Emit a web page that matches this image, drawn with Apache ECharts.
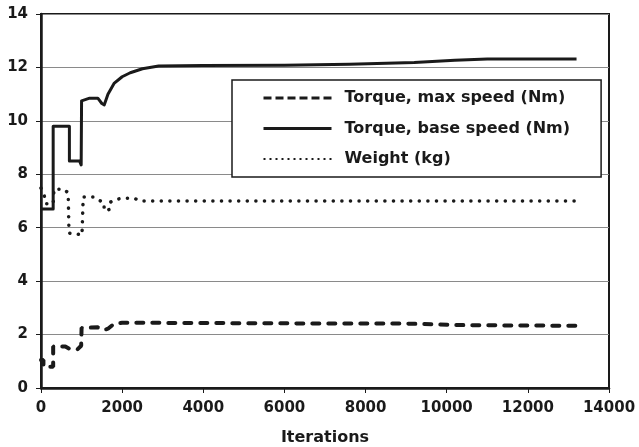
<!DOCTYPE html>
<html>
<head>
<meta charset="utf-8">
<script src="https://cdn.jsdelivr.net/npm/echarts@6/dist/echarts.min.js"></script>
<style>
  html, body { margin: 0; padding: 0; background: #fff; }
  #chart { width: 639px; height: 447px; }
</style>
</head>
<body>
<div id="chart"></div>
<script>
// Optimisation history: motor torques and weight against iteration count
const xTicks = [0, 2000, 4000, 6000, 8000, 10000, 12000, 14000];
const yTicks = [0, 2, 4, 6, 8, 10, 12, 14];

const seriesNames = ['Torque, max speed (Nm)', 'Torque, base speed (Nm)', 'Weight (kg)'];

// Torque at maximum speed (Nm)
const maxSpeedIter = [0, 60, 60, 300, 300, 600, 700, 900, 990, 1000, 1000, 1400, 1550, 1650, 1800, 2000, 2700, 6000, 9000, 10500, 13200];
const maxSpeedTorque = [1.05, 1.05, 0.8, 0.8, 1.55, 1.55, 1.47, 1.45, 1.58, 1.6, 2.25, 2.27, 2.17, 2.22, 2.4, 2.44, 2.44, 2.42, 2.41, 2.35, 2.33];

// Torque at base speed (Nm)
const baseSpeedIter = [0, 300, 300, 700, 700, 950, 990, 1000, 1000, 1200, 1400, 1500, 1560, 1650, 1800, 2000, 2200, 2500, 2900, 4000, 6000, 7600, 9200, 10200, 11000, 13200];
const baseSpeedTorque = [6.7, 6.7, 9.8, 9.8, 8.5, 8.5, 8.35, 8.35, 10.75, 10.85, 10.85, 10.65, 10.6, 11.0, 11.4, 11.65, 11.8, 11.95, 12.05, 12.07, 12.08, 12.12, 12.18, 12.27, 12.32, 12.32];

// Weight (kg)
const weightIter = [0, 80, 120, 300, 320, 570, 670, 690, 950, 1010, 1040, 1300, 1400, 1550, 1560, 1680, 1700, 1850, 2000, 2300, 2450, 13200];
const weightKg = [7.48, 7.2, 6.9, 6.9, 7.44, 7.44, 7.3, 5.8, 5.75, 5.72, 7.15, 7.15, 7.04, 6.95, 6.63, 6.68, 6.95, 7.06, 7.1, 7.1, 7.0, 7.0];

const pairs = (xs, ys) => xs.map((x, i) => [x, ys[i]]);

const font = '"DejaVu Sans", "Liberation Sans", Arial, sans-serif';
const ink = '#1a1a1a';
const hidden = { color: 'rgba(0,0,0,0)', opacity: 0, borderWidth: 0 };

const chart = echarts.init(document.getElementById('chart'), null, { renderer: 'canvas' });

chart.setOption({
  backgroundColor: '#ffffff',
  animation: false,
  grid: {
    left: 41, right: 30, top: 14, bottom: 59,
    outerBoundsMode: 'none',
    show: true, borderColor: ink, borderWidth: 2, backgroundColor: 'transparent'
  },
  legend: {
    orient: 'vertical',
    left: 232, top: 80,
    padding: [10, 31, 10, 30],
    itemWidth: 68, itemHeight: 16, itemGap: 14.5,
    backgroundColor: '#ffffff',
    borderColor: ink, borderWidth: 1.5,
    textStyle: { fontFamily: font, fontWeight: 'bold', fontSize: 16, color: ink, padding: [0, 0, 0, 8] },
    data: [
      { name: seriesNames[0], itemStyle: hidden, lineStyle: { width: 3, type: [8, 4], cap: 'butt' } },
      { name: seriesNames[1], itemStyle: hidden, lineStyle: { width: 3, type: 'solid' } },
      { name: seriesNames[2], itemStyle: hidden, lineStyle: { width: 2, type: [2, 4], cap: 'butt' } }
    ]
  },
  xAxis: {
    type: 'value', min: 0, max: 14000, interval: 2000,
    name: 'Iterations', nameLocation: 'middle', nameGap: 42,
    nameTextStyle: { fontFamily: font, fontWeight: 'bold', fontSize: 16, color: ink },
    axisLine: { lineStyle: { color: ink, width: 2.5 } },
    axisTick: { show: true, inside: false, length: 5, lineStyle: { color: ink, width: 1 } },
    axisLabel: {
      margin: 13, fontFamily: font, fontWeight: 'bold', fontSize: 15, color: ink,
      formatter: v => xTicks.includes(v) ? String(v) : ''
    },
    splitLine: { show: false }
  },
  yAxis: {
    type: 'value', min: 0, max: 14, interval: 2,
    axisLine: { show: true, lineStyle: { color: ink, width: 2.5 } },
    axisTick: { show: true, inside: false, length: 5, lineStyle: { color: ink, width: 1 } },
    axisLabel: {
      margin: 13, fontFamily: font, fontWeight: 'bold', fontSize: 15, color: ink,
      formatter: v => yTicks.includes(v) ? String(v) : ''
    },
    splitLine: { show: true, lineStyle: { color: '#8a8a8a', width: 1 } }
  },
  series: [
    {
      name: seriesNames[0], type: 'line', symbol: 'none', z: 3,
      data: pairs(maxSpeedIter, maxSpeedTorque),
      lineStyle: { color: ink, width: 4, type: [7, 9], cap: 'round' },
      itemStyle: { color: ink }
    },
    {
      name: seriesNames[1], type: 'line', symbol: 'none', z: 4,
      data: pairs(baseSpeedIter, baseSpeedTorque),
      lineStyle: { color: ink, width: 3, type: 'solid', join: 'round' },
      itemStyle: { color: ink }
    },
    {
      name: seriesNames[2], type: 'line', symbol: 'none', z: 3,
      data: pairs(weightIter, weightKg),
      lineStyle: { color: ink, width: 3.5, type: [0.1, 8.5], cap: 'round' },
      itemStyle: { color: ink }
    }
  ]
});
</script>
</body>
</html>
